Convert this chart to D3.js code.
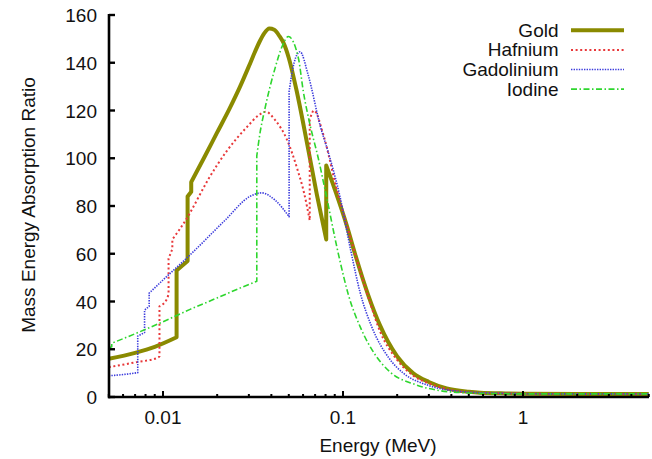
<!DOCTYPE html>
<html>
<head>
<meta charset="utf-8">
<script src="https://cdn.jsdelivr.net/npm/d3@7"></script>
<style>
  body { margin: 0; background: #fff; }
  svg { display: block; font-family: "Liberation Sans", Arial, Helvetica, sans-serif; }
</style>
</head>
<body>
<svg id="chart" width="652" height="459"></svg>
<script>
// data (energy in MeV, ratio); repeated energy = absorption edge
const goldE = [0.005, 0.007, 0.009, 0.0119, 0.0119, 0.0137, 0.0137, 0.01435, 0.01435, 0.017, 0.0199, 0.0235, 0.0268, 0.03, 0.0324, 0.0345, 0.0365, 0.039, 0.0415, 0.0445, 0.0466, 0.05, 0.055, 0.0629, 0.0715, 0.0807, 0.0807, 0.09, 0.1048, 0.1166, 0.1376, 0.1606, 0.2, 0.2458, 0.3, 0.3768, 0.5, 0.577, 0.8, 1, 2, 5];
const goldV = [16, 18.5, 21, 25, 53, 57, 84, 86, 90, 100.5, 110.5, 121, 130, 138.5, 144.5, 149, 152.3, 154.3, 153.8, 151, 148.5, 142, 129, 107, 85, 66, 97, 87, 72, 60, 43, 30, 17, 9.9, 6.3, 3.6, 2.2, 1.8, 1.5, 1.4, 1.3, 1.3];

const hafE = [0.005, 0.007, 0.0094, 0.00956, 0.00956, 0.0105, 0.01074, 0.01074, 0.01127, 0.01127, 0.0136, 0.0141, 0.0178, 0.0226, 0.0292, 0.034, 0.0372, 0.042, 0.0487, 0.056, 0.061, 0.06535, 0.06535, 0.069, 0.0777, 0.0923, 0.105, 0.138, 0.1606, 0.2, 0.245, 0.3, 0.377, 0.5, 0.8, 1, 2, 5];
const hafV = [12.5, 14.5, 16.5, 17, 38, 41, 43, 58, 62, 66, 75, 77, 91, 103, 113, 118, 119.5, 116, 108, 95, 85, 74, 116, 120, 110, 87, 72, 42, 27.5, 15.5, 9, 5.7, 3.3, 2, 1.5, 1.4, 1.3, 1.3];

const gadE = [0.005, 0.006, 0.00724, 0.00724, 0.0079, 0.0079, 0.00838, 0.00838, 0.01, 0.01413, 0.0221, 0.0304, 0.0353, 0.0419, 0.0502, 0.0502, 0.0535, 0.0577, 0.064, 0.0745, 0.0847, 0.0962, 0.11, 0.1243, 0.1443, 0.18, 0.2163, 0.3, 0.45, 0.7, 1, 2, 5];
const gadV = [8.9, 9.4, 10.2, 25.5, 27, 36.4, 38, 43.5, 49, 59.5, 74, 84, 85.5, 82.5, 75.5, 128, 140, 144.6, 135, 114, 100, 84, 62, 44, 29.5, 16.3, 10, 4.8, 2.3, 1.6, 1.4, 1.3, 1.3];

const iodE = [0.005, 0.00519, 0.00519, 0.007, 0.01, 0.01414, 0.02, 0.0275, 0.0332, 0.0332, 0.0345, 0.0369, 0.0419, 0.046, 0.0497, 0.0565, 0.0602, 0.0656, 0.0729, 0.0794, 0.0962, 0.107, 0.127, 0.15, 0.1824, 0.25, 0.35, 0.5, 0.7, 1, 2, 5];
const iodV = [20.5, 21, 22.5, 26.5, 31.5, 36.7, 41.5, 46, 48.5, 101, 110, 121, 137.6, 147, 151, 142, 128, 114, 100, 87, 57, 43, 28, 18, 10.5, 5.3, 2.6, 1.7, 1.4, 1.3, 1.3, 1.3];

const seriesNames = ["Gold", "Hafnium", "Gadolinium", "Iodine"];
const yTicks = [0, 20, 40, 60, 80, 100, 120, 140, 160];
const xTickLabels = [0.01, 0.1, 1];

const series = [
  { name: seriesNames[0], E: goldE, V: goldV, color: "#8a8a00", width: 4, dash: null },
  { name: seriesNames[1], E: hafE, V: hafV, color: "#e8383a", width: 2, dash: "2,2.6" },
  { name: seriesNames[2], E: gadE, V: gadV, color: "#3c3cdc", width: 1.6, dash: "1.4,1.2" },
  { name: seriesNames[3], E: iodE, V: iodV, color: "#2ed62e", width: 1.6, dash: "6,2.5,1.5,2.5" }
];

const svg = d3.select("#chart");

const x = d3.scaleLog().domain([0.005, 5]).range([108.8, 648.8]);
const y = d3.scaleLinear().domain([0, 160]).range([397, 15]);

// 曲线：每个吸收边处断开，竖直连接
const line = d3.line()
  .x(d => x(d[0]))
  .y(d => y(d[1]))
  .curve(d3.curveMonotoneX);

const buildPath = (E, V) => {
  const runs = [];
  let cur = [];
  E.forEach((e, i) => {
    if (i > 0 && e === E[i - 1]) { runs.push(cur); cur = []; }
    cur.push([e, V[i]]);
  });
  runs.push(cur);
  return runs.map((r, i) => {
    const p = line(r);
    return i === 0 ? p : "L" + p.slice(1);
  }).join("");
};

const lines = svg.append("g").attr("class", "lines");
series.forEach(s => {
  lines.append("path")
    .attr("d", buildPath(s.E, s.V))
    .attr("fill", "none")
    .attr("stroke", s.color)
    .attr("stroke-width", s.width)
    .attr("stroke-linejoin", "round")
    .attr("stroke-dasharray", s.dash);
});

// y axis
const yAxis = svg.append("g").attr("class", "y-axis");
yAxis.append("line")
  .attr("x1", 109).attr("x2", 109)
  .attr("y1", y(160) - 1).attr("y2", y(0) + 1.2)
  .attr("stroke", "#000").attr("stroke-width", 2.6);
yAxis.selectAll(".tick")
  .data(yTicks)
  .enter()
  .append("line")
  .attr("x1", 109).attr("x2", 115)
  .attr("y1", d => y(d)).attr("y2", d => y(d))
  .attr("stroke", "#000").attr("stroke-width", 2.4);
yAxis.selectAll("text")
  .data(yTicks)
  .enter()
  .append("text")
  .attr("x", 97)
  .attr("y", d => y(d) + 7)
  .attr("text-anchor", "end")
  .attr("font-size", 19)
  .attr("fill", "#111")
  .text(d => d);

// x axis
const xAxis = svg.append("g").attr("class", "x-axis");
xAxis.append("line")
  .attr("x1", 108).attr("x2", 649)
  .attr("y1", 397).attr("y2", 397)
  .attr("stroke", "#000").attr("stroke-width", 2.6);
const minor = x.ticks().filter(d => d >= 0.005 && d <= 5);
xAxis.selectAll(".tick")
  .data(minor)
  .enter()
  .append("line")
  .attr("x1", d => x(d)).attr("x2", d => x(d))
  .attr("y1", 397)
  .attr("y2", d => xTickLabels.some(t => Math.abs(t - d) < 1e-9) ? 391 : 394)
  .attr("stroke", "#000").attr("stroke-width", 2);
xAxis.selectAll("text")
  .data(xTickLabels)
  .enter()
  .append("text")
  .attr("x", d => x(d))
  .attr("y", 423.5)
  .attr("text-anchor", "middle")
  .attr("font-size", 19)
  .attr("fill", "#111")
  .text(d => d);

// axis titles
svg.append("text")
  .attr("x", 378)
  .attr("y", 451.5)
  .attr("text-anchor", "middle")
  .attr("font-size", 19)
  .attr("fill", "#111")
  .text("Energy (MeV)");
svg.append("text")
  .attr("transform", "translate(35,205) rotate(-90)")
  .attr("text-anchor", "middle")
  .attr("font-size", 19)
  .attr("fill", "#111")
  .text("Mass Energy Absorption Ratio");

// legend
const legend = svg.append("g").attr("class", "legend");
series.forEach((s, i) => {
  const cy = 30.3 + i * 19.6;
  legend.append("text")
    .attr("x", 558.5)
    .attr("y", cy + 6.5)
    .attr("text-anchor", "end")
    .attr("font-size", 19)
    .attr("fill", "#111")
    .text(s.name);
  legend.append("line")
    .attr("x1", 571).attr("x2", 624)
    .attr("y1", cy).attr("y2", cy)
    .attr("stroke", s.color)
    .attr("stroke-width", s.width)
    .attr("stroke-dasharray", s.dash);
});
</script>
</body>
</html>
